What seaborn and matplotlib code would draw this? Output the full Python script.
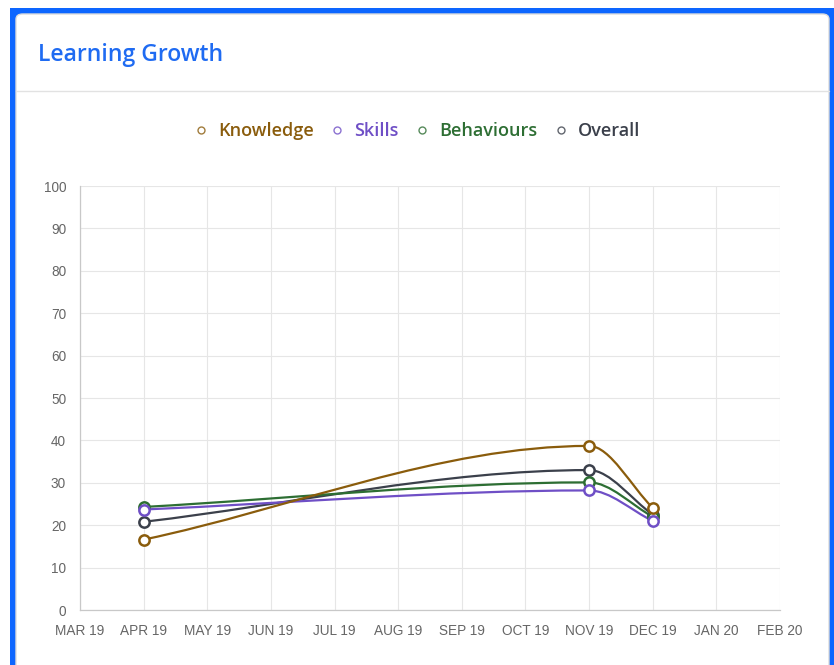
import numpy as np
import matplotlib
matplotlib.use("Agg")
import matplotlib.pyplot as plt
import seaborn as sns
from matplotlib.path import Path
from matplotlib.patches import PathPatch, Rectangle, FancyBboxPatch
from matplotlib.lines import Line2D

months = ["MAR 19", "APR 19", "MAY 19", "JUN 19", "JUL 19", "AUG 19",
          "SEP 19", "OCT 19", "NOV 19", "DEC 19", "JAN 20", "FEB 20"]
point_months = ["APR 19", "NOV 19", "DEC 19"]
knowledge = [16.6, 38.7, 24.1]
skills = [23.7, 28.2, 21.0]
behaviours = [24.3, 30.1, 22.0]
overall = [20.8, 33.0, 22.5]

series = [("Knowledge", knowledge, "#8a5c0c"),
          ("Skills", skills, "#6f4fc6"),
          ("Behaviours", behaviours, "#2d6e33"),
          ("Overall", overall, "#3b404b")]


def monotone_path(x, y):
    # chart.js style monotone cubic, built as bezier segments
    x = np.asarray(x, float)
    y = np.asarray(y, float)
    d = np.diff(y) / np.diff(x)
    m = np.zeros(len(x))
    m[0], m[-1] = d[0], d[-1]
    for i in range(1, len(x) - 1):
        if d[i - 1] == 0 or d[i] == 0 or np.sign(d[i - 1]) != np.sign(d[i]):
            m[i] = 0
        else:
            m[i] = (d[i - 1] + d[i]) / 2
    verts = [(x[0], y[0])]
    codes = [Path.MOVETO]
    for i in range(len(x) - 1):
        dx = (x[i + 1] - x[i]) / 3
        verts += [(x[i] + dx, y[i] + dx * m[i]),
                  (x[i + 1] - dx, y[i + 1] - dx * m[i + 1]),
                  (x[i + 1], y[i + 1])]
        codes += [Path.CURVE4] * 3
    return Path(verts, codes)


sns.set_style("white")
plt.rcParams["font.family"] = ["Liberation Sans", "DejaVu Sans"]

fig = plt.figure(figsize=(8.34, 6.65), dpi=100)
W, H = 834, 665

# blue frame and card
fig.patches.append(Rectangle((10 / W, 0), 824 / W, 657 / H, transform=fig.transFigure,
                             facecolor="#0d66ff", edgecolor="none", zorder=0))
fig.patches.append(FancyBboxPatch((16 / W, -0.05), 813 / W, 651 / H + 0.05,
                                  boxstyle="round,pad=0,rounding_size=0.008",
                                  transform=fig.transFigure, facecolor="white",
                                  edgecolor="#dcdcdc", linewidth=1, zorder=1))
fig.lines.append(Line2D([16 / W, 829 / W], [1 - 91 / H, 1 - 91 / H], transform=fig.transFigure,
                        color="#e2e2e2", linewidth=1, zorder=2))
fig.text(38 / W, 1 - 55 / H, "Learning Growth", color="#1f6bf2", fontsize=16.6,
         fontweight="semibold", family="Open Sans", va="center", ha="left")

ax = fig.add_axes([80 / W, 55 / H, 700 / W, 424 / H])
ax.set_zorder(3)
ax.patch.set_alpha(0)

xpos = [months.index(m) for m in point_months]
for name, vals, col in series[::-1]:
    ax.add_patch(PathPatch(monotone_path(xpos, vals), facecolor="none",
                           edgecolor=col, linewidth=1.6, zorder=3))
for name, vals, col in series[::-1]:
    sns.scatterplot(x=xpos, y=vals, ax=ax, s=55, facecolor="white",
                    edgecolor=col, linewidth=1.8, zorder=4)

ax.set_xlim(0, 11)
ax.set_ylim(0, 100)
ax.set_xticks(range(12))
ax.set_xticklabels(months)
ax.set_yticks(range(0, 101, 10))
ax.grid(True, color="#e6e6e6", linewidth=0.8)
ax.tick_params(axis="both", length=7, width=0.8, color="#e0e0e0",
               labelcolor="#666666", labelsize=9.8, pad=3)
for s in ["top", "right"]:
    ax.spines[s].set_visible(False)
for s in ["left", "bottom"]:
    ax.spines[s].set_color("#c8c8c8")
    ax.spines[s].set_linewidth(0.9)

handles = [Line2D([], [], marker="o", linestyle="none", markersize=5,
                  markerfacecolor="white", markeredgecolor=col, markeredgewidth=1.0,
                  alpha=0.8)
           for _, _, col in series]
leg = fig.legend(handles, [n for n, _, _ in series], loc="center",
                 bbox_to_anchor=(416 / W, 1 - 131 / H), ncol=4, frameon=False,
                 handletextpad=0.45, columnspacing=0.8, handlelength=1.0,
                 prop={"family": "Open Sans", "size": 13, "weight": "semibold"})
for txt, (_, _, col) in zip(leg.get_texts(), series):
    txt.set_color(col)

fig.savefig("out.png", dpi=100)
